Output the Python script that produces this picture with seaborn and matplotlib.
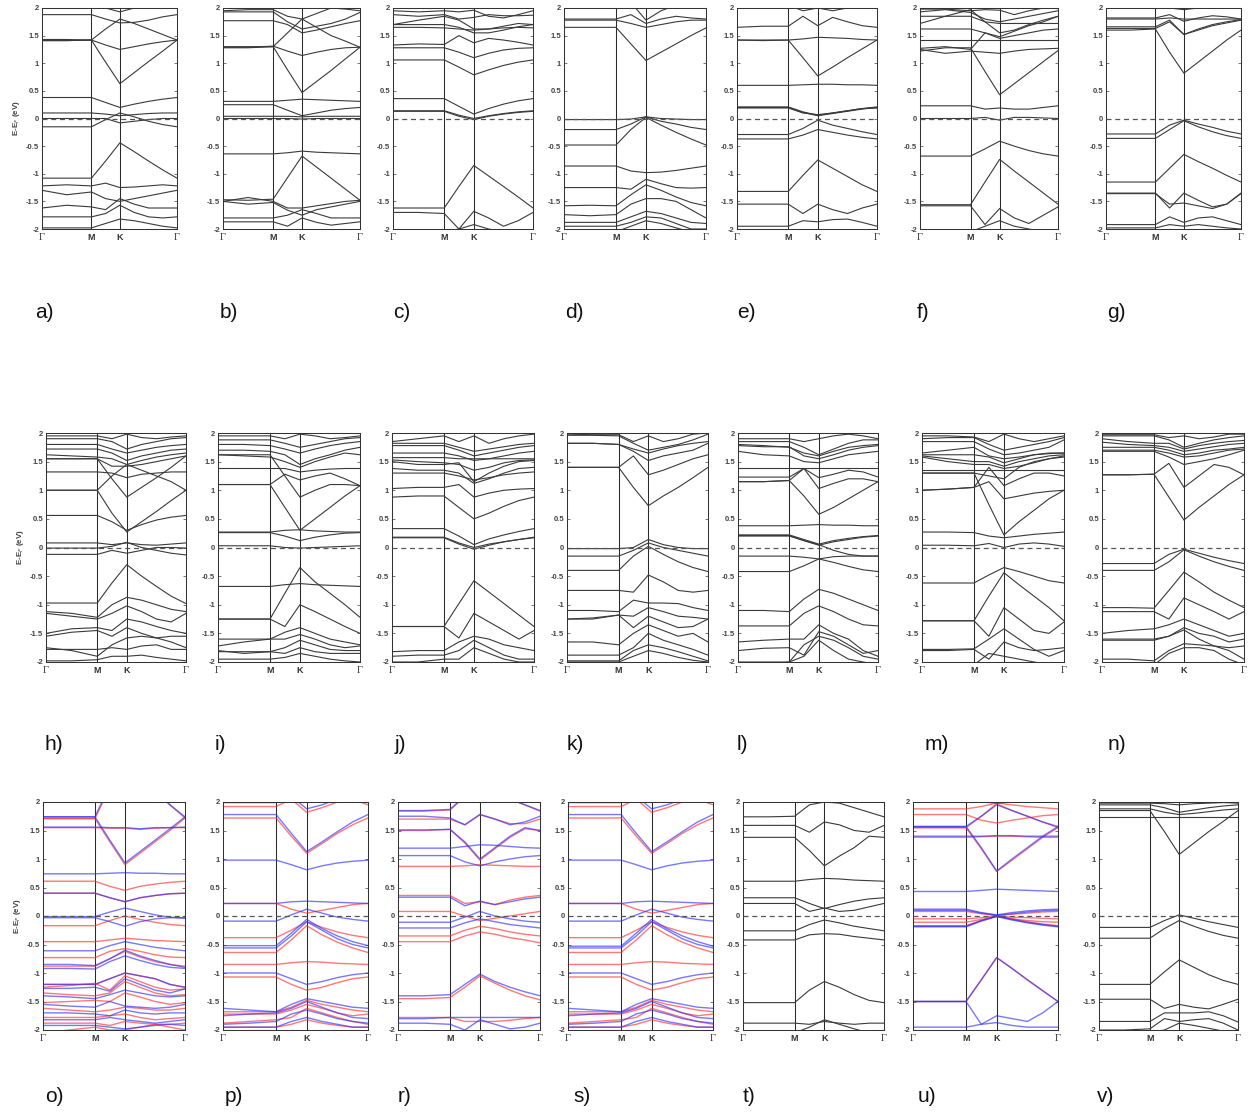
import numpy as np
import pandas as pd
import matplotlib
matplotlib.use("Agg")
import matplotlib.pyplot as plt
import seaborn as sns

# k-path sample positions: Γ, ΓM mid, M, MK mid, K, three points on KΓ, Γ
K_PATH = [0.0, 0.183, 0.366, 0.471, 0.577, 0.683, 0.789, 0.894, 1.0]
K_TICKS = [0.0, 0.366, 0.577, 1.0]
K_LABELS = ["Γ", "M", "K", "Γ"]
Y_TICKS = [2, 1.5, 1, 0.5, 0, -0.5, -1, -1.5, -2]

# ---------------- band energies (eV, relative to E_F) ----------------
BANDS_A = [
    [2.10, 2.10, 2.10, 2.00, 1.93, 2.00, 2.10, 2.10, 2.10],
    [1.88, 1.88, 1.88, 1.80, 1.73, 1.74, 1.78, 1.84, 1.88],
    [1.43, 1.43, 1.42, 1.62, 1.80, 1.72, 1.62, 1.52, 1.42],
    [1.41, 1.41, 1.42, 1.33, 1.25, 1.30, 1.35, 1.39, 1.42],
    [1.41, 1.41, 1.42, 1.02, 0.63, 0.83, 1.03, 1.22, 1.42],
    [0.38, 0.38, 0.38, 0.29, 0.20, 0.26, 0.31, 0.35, 0.38],
    [0.10, 0.10, 0.10, 0.08, 0.05, 0.07, 0.09, 0.10, 0.10],
    [0.00, 0.00, 0.00, 0.00, -0.08, -0.05, -0.02, 0.00, 0.00],
    [-0.15, -0.15, -0.15, -0.02, 0.10, 0.03, -0.05, -0.11, -0.15],
    [-1.08, -1.08, -1.08, -0.77, -0.44, -0.60, -0.77, -0.93, -1.08],
    [-1.22, -1.20, -1.22, -1.17, -1.25, -1.24, -1.22, -1.20, -1.22],
    [-1.30, -1.38, -1.33, -1.45, -1.50, -1.45, -1.40, -1.35, -1.30],
    [-1.62, -1.57, -1.60, -1.65, -1.45, -1.55, -1.62, -1.62, -1.62],
    [-1.78, -1.78, -1.78, -1.72, -1.57, -1.70, -1.78, -1.80, -1.78],
    [-1.98, -1.98, -1.98, -1.90, -1.82, -1.85, -1.90, -1.95, -1.98],
]
BANDS_B = [
    [1.95, 1.97, 1.97, 1.85, 1.80, 1.90, 2.00, 1.98, 1.95],
    [1.93, 1.93, 1.93, 1.75, 1.62, 1.67, 1.72, 1.80, 1.92],
    [1.77, 1.77, 1.77, 1.70, 1.55, 1.60, 1.66, 1.72, 1.77],
    [1.30, 1.30, 1.30, 1.55, 1.80, 1.65, 1.50, 1.40, 1.29],
    [1.29, 1.29, 1.31, 1.22, 1.14, 1.20, 1.25, 1.28, 1.29],
    [1.28, 1.28, 1.30, 0.88, 0.47, 0.67, 0.87, 1.08, 1.29],
    [0.31, 0.31, 0.31, 0.33, 0.35, 0.34, 0.33, 0.32, 0.31],
    [0.25, 0.25, 0.25, 0.15, 0.05, 0.10, 0.15, 0.18, 0.20],
    [0.04, 0.04, 0.04, 0.04, 0.03, 0.04, 0.04, 0.04, 0.04],
    [0.00, 0.00, 0.00, 0.00, -0.01, 0.00, 0.00, 0.00, 0.00],
    [-0.64, -0.64, -0.64, -0.62, -0.59, -0.61, -0.62, -0.63, -0.64],
    [-1.47, -1.48, -1.46, -1.07, -0.68, -0.88, -1.08, -1.28, -1.48],
    [-1.50, -1.43, -1.50, -1.62, -1.62, -1.58, -1.54, -1.50, -1.48],
    [-1.50, -1.55, -1.52, -1.66, -1.75, -1.65, -1.60, -1.55, -1.50],
    [-1.80, -1.80, -1.80, -1.75, -1.65, -1.72, -1.80, -1.80, -1.80],
    [-1.87, -1.87, -1.87, -1.95, -1.80, -1.88, -1.93, -1.90, -1.87],
]
BANDS_C = [
    [1.95, 1.93, 1.95, 1.93, 1.96, 1.85, 1.82, 1.88, 1.95],
    [1.88, 1.85, 1.88, 1.80, 1.83, 1.88, 1.86, 1.86, 1.87],
    [1.70, 1.78, 1.85, 1.78, 1.62, 1.62, 1.67, 1.72, 1.70],
    [1.70, 1.70, 1.70, 1.65, 1.55, 1.55, 1.60, 1.66, 1.70],
    [1.65, 1.65, 1.64, 1.62, 1.60, 1.62, 1.64, 1.65, 1.64],
    [1.33, 1.35, 1.34, 1.50, 1.37, 1.45, 1.42, 1.38, 1.33],
    [1.28, 1.28, 1.28, 1.20, 1.10, 1.18, 1.24, 1.27, 1.28],
    [1.06, 1.06, 1.06, 0.93, 0.79, 0.88, 0.96, 1.02, 1.06],
    [0.36, 0.36, 0.36, 0.22, 0.08, 0.18, 0.26, 0.32, 0.36],
    [0.14, 0.14, 0.14, 0.06, 0.00, 0.05, 0.09, 0.12, 0.14],
    [0.13, 0.13, 0.13, 0.04, -0.02, 0.04, 0.08, 0.11, 0.13],
    [-1.62, -1.62, -1.62, -1.23, -0.85, -1.04, -1.23, -1.42, -1.62],
    [-1.70, -1.70, -1.72, -2.00, -1.68, -1.80, -1.95, -1.85, -1.70],
    [-2.05, -2.05, -2.05, -2.00, -1.92, -2.00, -2.05, -2.05, -2.05],
]
BANDS_D = [
    [2.10, 2.10, 2.10, 2.10, 1.78, 1.95, 2.05, 2.10, 2.10],
    [1.80, 1.80, 1.80, 1.88, 1.72, 1.80, 1.85, 1.82, 1.80],
    [1.78, 1.78, 1.78, 1.72, 1.65, 1.70, 1.75, 1.78, 1.78],
    [1.65, 1.65, 1.65, 1.35, 1.05, 1.20, 1.35, 1.50, 1.64],
    [-0.02, -0.02, -0.02, -0.01, 0.03, 0.00, -0.01, -0.02, -0.02],
    [-0.20, -0.20, -0.20, -0.10, 0.03, -0.05, -0.10, -0.16, -0.20],
    [-0.48, -0.48, -0.48, -0.20, 0.02, -0.12, -0.25, -0.37, -0.48],
    [-0.86, -0.86, -0.86, -0.95, -0.98, -0.97, -0.94, -0.90, -0.86],
    [-1.25, -1.25, -1.25, -1.28, -1.10, -1.18, -1.25, -1.26, -1.25],
    [-1.58, -1.57, -1.58, -1.38, -1.20, -1.30, -1.42, -1.52, -1.58],
    [-1.74, -1.76, -1.74, -1.55, -1.45, -1.45, -1.50, -1.65, -1.80],
    [-1.88, -1.88, -1.88, -1.78, -1.68, -1.72, -1.80, -1.88, -1.90],
    [-1.95, -1.95, -1.95, -1.88, -1.78, -1.80, -1.90, -2.00, -2.00],
    [-2.05, -2.05, -2.05, -1.95, -1.85, -1.90, -1.98, -2.05, -2.05],
]
BANDS_E = [
    [2.05, 2.05, 2.05, 1.95, 2.00, 1.95, 2.00, 2.05, 2.05],
    [1.65, 1.67, 1.67, 1.85, 1.68, 1.83, 1.75, 1.68, 1.65],
    [1.42, 1.41, 1.42, 1.44, 1.47, 1.46, 1.45, 1.43, 1.42],
    [1.42, 1.42, 1.42, 1.10, 0.77, 0.93, 1.10, 1.26, 1.42],
    [0.60, 0.60, 0.60, 0.61, 0.62, 0.62, 0.61, 0.61, 0.60],
    [0.21, 0.21, 0.21, 0.12, 0.06, 0.10, 0.14, 0.18, 0.21],
    [0.20, 0.20, 0.20, 0.11, 0.05, 0.09, 0.13, 0.17, 0.20],
    [0.19, 0.19, 0.19, 0.10, 0.07, 0.10, 0.14, 0.18, 0.19],
    [-0.29, -0.29, -0.29, -0.18, -0.03, -0.12, -0.18, -0.24, -0.29],
    [-0.37, -0.37, -0.37, -0.30, -0.20, -0.25, -0.30, -0.34, -0.37],
    [-1.32, -1.32, -1.32, -1.03, -0.75, -0.90, -1.05, -1.20, -1.32],
    [-1.55, -1.55, -1.55, -1.72, -1.55, -1.65, -1.72, -1.62, -1.55],
    [-1.95, -1.95, -1.95, -1.85, -1.87, -1.83, -1.82, -1.88, -1.95],
]
BANDS_F = [
    [1.98, 1.98, 1.95, 1.97, 1.96, 1.88, 1.95, 2.00, 1.99],
    [1.93, 1.97, 1.92, 1.80, 1.75, 1.80, 1.85, 1.90, 1.95],
    [1.85, 1.85, 1.85, 1.75, 1.72, 1.72, 1.72, 1.72, 1.72],
    [1.72, 1.85, 1.97, 1.75, 1.55, 1.60, 1.70, 1.78, 1.85],
    [1.62, 1.62, 1.62, 1.55, 1.45, 1.50, 1.55, 1.60, 1.62],
    [1.42, 1.42, 1.42, 1.42, 1.42, 1.42, 1.42, 1.42, 1.42],
    [1.27, 1.30, 1.25, 1.55, 1.48, 1.58, 1.68, 1.75, 1.85],
    [1.25, 1.18, 1.22, 1.20, 1.18, 1.22, 1.25, 1.26, 1.27],
    [1.22, 1.28, 1.28, 0.85, 0.43, 0.63, 0.83, 1.03, 1.23],
    [0.23, 0.23, 0.23, 0.17, 0.19, 0.17, 0.17, 0.20, 0.23],
    [0.00, 0.00, 0.00, 0.02, -0.03, 0.02, 0.02, 0.01, 0.00],
    [-0.68, -0.68, -0.68, -0.55, -0.41, -0.50, -0.58, -0.64, -0.68],
    [-1.56, -1.56, -1.56, -1.15, -0.74, -0.95, -1.15, -1.35, -1.55],
    [-1.58, -1.58, -1.58, -1.92, -1.63, -1.80, -1.90, -1.75, -1.60],
    [-2.05, -2.05, -2.05, -1.95, -1.85, -1.95, -2.00, -2.05, -2.05],
]
BANDS_G = [
    [2.05, 2.05, 2.05, 2.00, 1.97, 2.00, 2.05, 2.05, 2.05],
    [1.82, 1.82, 1.82, 1.88, 1.76, 1.82, 1.86, 1.84, 1.80],
    [1.80, 1.80, 1.80, 1.82, 1.80, 1.80, 1.80, 1.80, 1.80],
    [1.66, 1.66, 1.66, 1.78, 1.52, 1.62, 1.70, 1.75, 1.79],
    [1.63, 1.63, 1.63, 1.75, 1.52, 1.60, 1.68, 1.73, 1.78],
    [1.60, 1.60, 1.62, 1.20, 0.82, 1.02, 1.22, 1.42, 1.60],
    [-0.28, -0.28, -0.28, -0.12, -0.03, -0.10, -0.16, -0.23, -0.28],
    [-0.36, -0.36, -0.36, -0.20, -0.04, -0.15, -0.24, -0.31, -0.36],
    [-1.15, -1.15, -1.15, -0.90, -0.65, -0.78, -0.90, -1.03, -1.15],
    [-1.35, -1.35, -1.35, -1.62, -1.35, -1.48, -1.60, -1.55, -1.35],
    [-1.36, -1.36, -1.36, -1.55, -1.53, -1.58, -1.63, -1.55, -1.36],
    [-1.92, -1.92, -1.92, -1.78, -1.88, -1.80, -1.78, -1.85, -1.92],
    [-1.98, -1.98, -1.98, -1.92, -1.95, -1.92, -1.95, -1.98, -2.00],
]
BANDS_H = [
    [1.95, 1.95, 1.95, 1.90, 1.98, 1.92, 1.90, 1.93, 1.95],
    [1.90, 1.90, 1.90, 1.85, 1.72, 1.80, 1.85, 1.90, 1.92],
    [1.80, 1.80, 1.80, 1.72, 1.65, 1.70, 1.75, 1.78, 1.80],
    [1.72, 1.72, 1.72, 1.65, 1.52, 1.60, 1.65, 1.70, 1.72],
    [1.62, 1.60, 1.58, 1.55, 1.45, 1.52, 1.58, 1.62, 1.65],
    [1.55, 1.55, 1.55, 1.42, 1.42, 1.45, 1.50, 1.55, 1.60],
    [1.32, 1.32, 1.32, 1.30, 1.22, 1.28, 1.30, 1.32, 1.32],
    [1.00, 1.00, 1.00, 1.25, 1.45, 1.35, 1.25, 1.15, 1.00],
    [1.55, 1.55, 1.55, 1.20, 0.88, 1.05, 1.22, 1.40, 1.60],
    [1.00, 1.00, 1.00, 0.60, 0.27, 0.45, 0.63, 0.82, 1.00],
    [0.56, 0.56, 0.56, 0.45, 0.30, 0.40, 0.48, 0.53, 0.56],
    [0.08, 0.08, 0.08, 0.05, 0.08, 0.05, 0.04, 0.06, 0.08],
    [-0.01, -0.01, -0.01, 0.02, 0.09, 0.00, -0.05, -0.10, -0.13],
    [-0.12, -0.12, -0.12, -0.05, -0.10, -0.05, 0.00, 0.00, -0.01],
    [-0.97, -0.97, -0.97, -0.62, -0.30, -0.50, -0.68, -0.85, -0.98],
    [-1.12, -1.15, -1.22, -1.00, -0.87, -0.92, -1.00, -1.08, -1.12],
    [-1.15, -1.20, -1.25, -1.15, -1.02, -1.12, -1.25, -1.30, -1.15],
    [-1.50, -1.42, -1.40, -1.45, -1.25, -1.30, -1.38, -1.45, -1.50],
    [-1.55, -1.48, -1.45, -1.55, -1.40, -1.50, -1.58, -1.55, -1.55],
    [-1.75, -1.80, -1.90, -1.70, -1.58, -1.55, -1.58, -1.65, -1.75],
    [-1.78, -1.78, -1.78, -1.75, -1.78, -1.72, -1.70, -1.78, -1.78],
    [-1.98, -1.98, -1.96, -1.90, -1.90, -1.88, -1.92, -1.95, -1.98],
]
BANDS_I = [
    [1.95, 1.95, 1.95, 1.90, 1.98, 1.95, 1.90, 1.92, 1.95],
    [1.88, 1.88, 1.88, 1.82, 1.75, 1.80, 1.85, 1.90, 1.92],
    [1.80, 1.80, 1.78, 1.72, 1.65, 1.72, 1.78, 1.82, 1.85],
    [1.70, 1.70, 1.68, 1.62, 1.45, 1.55, 1.62, 1.70, 1.75],
    [1.62, 1.60, 1.58, 1.50, 1.40, 1.50, 1.58, 1.65, 1.62],
    [1.38, 1.38, 1.38, 1.38, 1.32, 1.35, 1.37, 1.38, 1.38],
    [1.10, 1.10, 1.10, 1.28, 1.18, 1.25, 1.30, 1.20, 1.08],
    [1.62, 1.62, 1.62, 1.25, 0.88, 1.00, 1.10, 1.10, 1.08],
    [1.10, 1.10, 1.10, 0.70, 0.30, 0.50, 0.70, 0.90, 1.08],
    [0.27, 0.27, 0.27, 0.30, 0.31, 0.29, 0.28, 0.27, 0.27],
    [0.26, 0.26, 0.26, 0.20, 0.12, 0.18, 0.22, 0.25, 0.26],
    [0.03, 0.03, 0.03, 0.00, -0.01, 0.00, 0.01, 0.02, 0.03],
    [-0.68, -0.68, -0.68, -0.65, -0.63, -0.65, -0.66, -0.67, -0.68],
    [-1.25, -1.25, -1.25, -0.80, -0.35, -0.60, -0.80, -1.00, -1.22],
    [-1.25, -1.25, -1.25, -1.38, -1.00, -1.12, -1.25, -1.38, -1.50],
    [-1.60, -1.60, -1.60, -1.48, -1.40, -1.50, -1.60, -1.65, -1.70],
    [-1.72, -1.65, -1.60, -1.60, -1.52, -1.60, -1.70, -1.75, -1.72],
    [-1.80, -1.85, -1.82, -1.75, -1.62, -1.70, -1.78, -1.80, -1.80],
    [-1.82, -1.82, -1.82, -1.85, -1.75, -1.82, -1.85, -1.85, -1.85],
    [-1.95, -1.95, -1.95, -1.92, -1.85, -1.90, -1.95, -1.98, -2.00],
]
BANDS_J = [
    [1.85, 1.90, 1.95, 1.85, 1.95, 1.82, 1.90, 1.95, 1.98],
    [1.82, 1.82, 1.82, 1.75, 1.68, 1.72, 1.76, 1.80, 1.82],
    [1.78, 1.78, 1.78, 1.70, 1.60, 1.65, 1.70, 1.75, 1.78],
    [1.65, 1.65, 1.65, 1.60, 1.52, 1.55, 1.60, 1.65, 1.68],
    [1.57, 1.57, 1.57, 1.55, 1.55, 1.55, 1.55, 1.55, 1.55],
    [1.53, 1.50, 1.48, 1.45, 1.35, 1.40, 1.48, 1.52, 1.53],
    [1.50, 1.45, 1.45, 1.48, 1.15, 1.30, 1.42, 1.50, 1.52],
    [1.38, 1.35, 1.35, 1.30, 1.12, 1.20, 1.30, 1.38, 1.40],
    [1.30, 1.30, 1.30, 1.25, 1.18, 1.22, 1.27, 1.30, 1.32],
    [1.03, 1.05, 1.05, 1.10, 0.88, 0.95, 1.00, 1.02, 1.03],
    [0.88, 0.90, 0.90, 0.70, 0.50, 0.60, 0.72, 0.82, 0.88],
    [0.33, 0.33, 0.33, 0.20, 0.05, 0.15, 0.22, 0.28, 0.33],
    [0.18, 0.18, 0.18, 0.08, 0.00, 0.06, 0.10, 0.14, 0.18],
    [0.17, 0.17, 0.17, 0.06, -0.03, 0.04, 0.10, 0.14, 0.17],
    [-1.38, -1.38, -1.38, -0.98, -0.58, -0.78, -0.98, -1.18, -1.38],
    [-1.38, -1.38, -1.38, -1.58, -1.15, -1.30, -1.45, -1.60, -1.45],
    [-1.82, -1.80, -1.80, -1.65, -1.55, -1.60, -1.70, -1.75, -1.80],
    [-1.90, -1.88, -1.88, -1.80, -1.62, -1.75, -1.88, -1.95, -1.95],
    [-2.00, -2.00, -1.95, -1.95, -1.75, -1.85, -1.95, -2.00, -2.00],
]
BANDS_K = [
    [1.98, 1.97, 1.97, 1.85, 1.95, 1.85, 1.90, 1.98, 2.00],
    [1.96, 1.96, 1.95, 1.82, 1.70, 1.75, 1.80, 1.88, 1.98],
    [1.82, 1.82, 1.80, 1.72, 1.65, 1.72, 1.78, 1.82, 1.85],
    [1.82, 1.82, 1.80, 1.68, 1.52, 1.60, 1.65, 1.70, 1.82],
    [1.40, 1.40, 1.40, 1.60, 1.27, 1.35, 1.45, 1.55, 1.62],
    [1.40, 1.40, 1.40, 1.05, 0.73, 0.90, 1.05, 1.22, 1.40],
    [-0.02, -0.02, -0.02, 0.00, 0.14, 0.05, 0.00, -0.02, -0.02],
    [-0.15, -0.15, -0.15, -0.05, 0.08, 0.00, -0.05, -0.10, -0.15],
    [-0.40, -0.40, -0.40, -0.15, 0.02, -0.12, -0.25, -0.35, -0.42],
    [-0.75, -0.75, -0.75, -0.78, -0.48, -0.60, -0.75, -0.78, -0.75],
    [-1.10, -1.10, -1.12, -0.92, -0.97, -0.97, -0.98, -1.05, -1.10],
    [-1.25, -1.23, -1.18, -1.20, -1.05, -1.12, -1.20, -1.22, -1.25],
    [-1.25, -1.25, -1.18, -1.40, -1.20, -1.30, -1.40, -1.38, -1.25],
    [-1.65, -1.65, -1.70, -1.50, -1.35, -1.45, -1.55, -1.50, -1.65],
    [-1.88, -1.88, -1.88, -1.75, -1.50, -1.62, -1.70, -1.78, -1.88],
    [-1.98, -1.98, -1.98, -1.80, -1.70, -1.75, -1.82, -1.90, -1.98],
    [-2.00, -2.00, -2.00, -1.90, -1.80, -1.85, -1.92, -1.97, -2.00],
]
BANDS_L = [
    [1.90, 1.90, 1.90, 1.85, 1.90, 1.95, 1.98, 1.95, 1.90],
    [1.85, 1.85, 1.85, 1.75, 1.62, 1.72, 1.82, 1.88, 1.88],
    [1.80, 1.78, 1.75, 1.65, 1.60, 1.68, 1.75, 1.78, 1.80],
    [1.78, 1.76, 1.76, 1.60, 1.55, 1.62, 1.70, 1.75, 1.78],
    [1.68, 1.62, 1.60, 1.50, 1.48, 1.55, 1.62, 1.65, 1.68],
    [1.38, 1.38, 1.38, 1.38, 1.38, 1.38, 1.38, 1.38, 1.38],
    [1.23, 1.23, 1.23, 1.38, 1.22, 1.28, 1.35, 1.32, 1.23],
    [1.15, 1.15, 1.17, 1.38, 1.03, 1.12, 1.20, 1.20, 1.15],
    [1.15, 1.15, 1.17, 0.90, 0.58, 0.70, 0.85, 1.00, 1.15],
    [0.38, 0.38, 0.38, 0.39, 0.40, 0.39, 0.39, 0.38, 0.38],
    [0.22, 0.22, 0.22, 0.14, 0.06, 0.12, 0.16, 0.19, 0.21],
    [0.21, 0.21, 0.21, 0.12, 0.04, 0.10, 0.14, 0.18, 0.20],
    [0.20, 0.20, 0.20, 0.12, 0.05, -0.05, -0.12, -0.15, -0.15],
    [-0.15, -0.15, -0.15, -0.17, -0.20, -0.16, -0.15, -0.15, -0.15],
    [-0.42, -0.42, -0.42, -0.32, -0.20, -0.26, -0.33, -0.39, -0.42],
    [-1.10, -1.10, -1.12, -0.90, -0.73, -0.80, -0.90, -1.00, -1.10],
    [-1.37, -1.37, -1.37, -1.15, -1.02, -1.12, -1.25, -1.35, -1.37],
    [-1.65, -1.62, -1.60, -1.60, -1.35, -1.50, -1.60, -1.80, -1.90],
    [-1.80, -1.76, -1.75, -1.88, -1.47, -1.55, -1.70, -1.85, -1.80],
    [-2.00, -2.00, -2.00, -1.70, -1.55, -1.62, -1.75, -1.90, -1.95],
    [-2.05, -2.05, -2.00, -1.90, -1.62, -1.80, -1.95, -2.00, -2.05],
]
BANDS_M = [
    [1.95, 1.95, 1.93, 1.85, 1.98, 1.90, 1.85, 1.90, 1.95],
    [1.90, 1.92, 1.92, 1.80, 1.70, 1.75, 1.80, 1.85, 1.92],
    [1.85, 1.85, 1.85, 1.72, 1.62, 1.65, 1.70, 1.75, 1.88],
    [1.65, 1.70, 1.75, 1.60, 1.55, 1.58, 1.62, 1.65, 1.65],
    [1.62, 1.62, 1.62, 1.58, 1.48, 1.55, 1.62, 1.64, 1.65],
    [1.60, 1.55, 1.50, 1.50, 1.42, 1.50, 1.55, 1.60, 1.62],
    [1.58, 1.50, 1.45, 1.45, 1.38, 1.42, 1.48, 1.55, 1.58],
    [1.35, 1.35, 1.35, 1.35, 1.35, 1.35, 1.35, 1.35, 1.35],
    [1.30, 1.30, 1.30, 1.25, 1.20, 1.40, 1.50, 1.55, 1.60],
    [1.00, 1.02, 1.05, 1.40, 1.08, 1.20, 1.30, 1.30, 1.25],
    [1.00, 1.02, 1.05, 1.15, 0.85, 0.90, 0.95, 0.98, 1.00],
    [1.30, 1.30, 1.30, 0.75, 0.22, 0.45, 0.65, 0.85, 1.00],
    [0.27, 0.27, 0.26, 0.20, 0.17, 0.20, 0.23, 0.25, 0.27],
    [0.04, 0.04, 0.03, 0.07, 0.00, 0.06, 0.08, 0.06, 0.02],
    [-0.62, -0.62, -0.62, -0.48, -0.35, -0.42, -0.50, -0.58, -0.62],
    [-1.28, -1.28, -1.28, -0.85, -0.44, -0.65, -0.85, -1.05, -1.28],
    [-1.28, -1.28, -1.28, -1.55, -1.05, -1.25, -1.45, -1.50, -1.30],
    [-1.78, -1.78, -1.77, -1.60, -1.42, -1.60, -1.78, -1.90, -1.80],
    [-1.80, -1.80, -1.78, -1.95, -1.65, -1.75, -1.80, -1.78, -1.75],
    [-2.05, -2.05, -2.05, -1.85, -1.90, -1.95, -2.00, -2.05, -2.05],
]
BANDS_N = [
    [1.97, 1.97, 1.97, 1.92, 1.95, 1.90, 1.93, 1.98, 1.98],
    [1.95, 1.95, 1.95, 1.88, 1.75, 1.82, 1.88, 1.92, 1.95],
    [1.90, 1.85, 1.82, 1.82, 1.72, 1.78, 1.82, 1.85, 1.87],
    [1.84, 1.80, 1.78, 1.75, 1.68, 1.72, 1.76, 1.80, 1.82],
    [1.75, 1.75, 1.75, 1.70, 1.62, 1.65, 1.70, 1.72, 1.75],
    [1.70, 1.70, 1.70, 1.65, 1.58, 1.60, 1.65, 1.70, 1.72],
    [1.68, 1.68, 1.68, 1.58, 1.45, 1.50, 1.55, 1.62, 1.70],
    [1.27, 1.27, 1.28, 1.47, 1.05, 1.25, 1.45, 1.40, 1.27],
    [1.27, 1.27, 1.28, 0.88, 0.48, 0.70, 0.90, 1.10, 1.27],
    [-0.28, -0.28, -0.28, -0.12, -0.03, -0.10, -0.17, -0.23, -0.28],
    [-0.40, -0.40, -0.40, -0.25, -0.04, -0.15, -0.25, -0.33, -0.40],
    [-1.05, -1.05, -1.06, -0.75, -0.43, -0.60, -0.78, -0.92, -1.05],
    [-1.12, -1.12, -1.12, -1.25, -0.88, -1.00, -1.12, -1.25, -1.12],
    [-1.50, -1.45, -1.42, -1.35, -1.25, -1.35, -1.45, -1.55, -1.50],
    [-1.60, -1.60, -1.60, -1.55, -1.40, -1.50, -1.55, -1.65, -1.60],
    [-1.62, -1.62, -1.62, -1.55, -1.44, -1.60, -1.72, -1.75, -1.72],
    [-1.95, -1.95, -1.98, -1.80, -1.68, -1.70, -1.72, -1.80, -1.95],
    [-2.05, -2.05, -2.05, -1.85, -1.75, -1.75, -1.80, -1.95, -2.05],
]
# spin-polarised panels: majority (blue) and minority (red) channels
BANDS_O_UP = [
    [1.74, 1.74, 1.74, 2.30, 2.60, 2.40, 2.20, 1.95, 1.74],
    [1.74, 1.74, 1.74, 1.33, 0.93, 1.13, 1.33, 1.53, 1.74],
    [1.56, 1.56, 1.56, 1.55, 1.55, 1.53, 1.55, 1.55, 1.56],
    [0.74, 0.74, 0.74, 0.75, 0.76, 0.75, 0.75, 0.74, 0.74],
    [0.40, 0.40, 0.40, 0.32, 0.25, 0.32, 0.36, 0.39, 0.40],
    [-0.01, -0.01, -0.01, 0.07, 0.14, 0.08, 0.02, -0.02, -0.04],
    [-0.03, -0.03, -0.03, -0.10, -0.18, -0.10, -0.05, -0.03, -0.03],
    [-0.61, -0.61, -0.61, -0.52, -0.45, -0.50, -0.55, -0.58, -0.61],
    [-0.85, -0.85, -0.87, -0.75, -0.60, -0.70, -0.78, -0.85, -0.90],
    [-0.92, -0.92, -0.93, -0.80, -0.70, -0.78, -0.85, -0.90, -0.92],
    [-1.20, -1.20, -1.20, -1.10, -1.00, -1.05, -1.10, -1.20, -1.25],
    [-1.27, -1.27, -1.25, -1.32, -1.10, -1.20, -1.30, -1.35, -1.28],
    [-1.40, -1.42, -1.45, -1.38, -1.30, -1.35, -1.40, -1.42, -1.40],
    [-1.55, -1.58, -1.60, -1.50, -1.58, -1.60, -1.62, -1.60, -1.55],
    [-1.70, -1.70, -1.72, -1.75, -1.65, -1.70, -1.72, -1.70, -1.70],
    [-1.82, -1.82, -1.82, -1.78, -1.82, -1.85, -1.88, -1.85, -1.82],
    [-1.92, -1.92, -1.92, -1.95, -1.98, -1.95, -1.92, -1.90, -1.92],
]
BANDS_O_DN = [
    [1.71, 1.71, 1.71, 2.25, 2.60, 2.40, 2.20, 1.95, 1.72],
    [1.71, 1.71, 1.71, 1.30, 0.90, 1.10, 1.30, 1.50, 1.72],
    [1.55, 1.55, 1.55, 1.54, 1.54, 1.52, 1.54, 1.55, 1.55],
    [0.61, 0.61, 0.61, 0.52, 0.45, 0.52, 0.56, 0.59, 0.61],
    [0.40, 0.40, 0.40, 0.32, 0.25, 0.32, 0.36, 0.39, 0.40],
    [-0.17, -0.17, -0.17, -0.08, 0.00, -0.06, -0.11, -0.15, -0.17],
    [-0.45, -0.45, -0.45, -0.42, -0.39, -0.41, -0.43, -0.44, -0.45],
    [-0.73, -0.73, -0.73, -0.62, -0.57, -0.62, -0.68, -0.72, -0.73],
    [-0.88, -0.88, -0.88, -0.75, -0.62, -0.72, -0.80, -0.85, -0.88],
    [-1.20, -1.20, -1.20, -1.10, -1.00, -1.05, -1.10, -1.20, -1.25],
    [-1.25, -1.22, -1.18, -1.30, -1.05, -1.15, -1.25, -1.30, -1.28],
    [-1.35, -1.38, -1.40, -1.35, -1.15, -1.25, -1.35, -1.40, -1.38],
    [-1.52, -1.50, -1.48, -1.50, -1.35, -1.42, -1.50, -1.55, -1.52],
    [-1.62, -1.65, -1.68, -1.65, -1.60, -1.62, -1.65, -1.65, -1.62],
    [-1.78, -1.78, -1.78, -1.75, -1.72, -1.78, -1.82, -1.80, -1.78],
    [-1.88, -1.88, -1.88, -1.92, -1.85, -1.88, -1.90, -1.90, -1.88],
    [-2.05, -2.00, -1.95, -2.00, -2.00, -1.95, -1.90, -1.95, -2.00],
]
BANDS_P_UP = [
    [1.99, 1.99, 1.99, 2.10, 1.88, 1.95, 2.05, 2.10, 2.00],
    [1.78, 1.78, 1.78, 1.45, 1.13, 1.30, 1.48, 1.65, 1.78],
    [0.98, 0.98, 0.98, 0.90, 0.81, 0.88, 0.93, 0.96, 0.98],
    [0.22, 0.22, 0.22, 0.25, 0.26, 0.25, 0.24, 0.23, 0.22],
    [-0.09, -0.09, -0.09, 0.02, 0.12, 0.05, -0.02, -0.06, -0.09],
    [-0.52, -0.52, -0.52, -0.30, -0.06, -0.22, -0.35, -0.45, -0.52],
    [-0.56, -0.56, -0.56, -0.35, -0.10, -0.25, -0.40, -0.50, -0.56],
    [-1.00, -1.00, -1.00, -1.10, -1.20, -1.15, -1.08, -1.03, -1.00],
    [-1.62, -1.65, -1.68, -1.55, -1.45, -1.50, -1.55, -1.60, -1.62],
    [-1.75, -1.72, -1.70, -1.62, -1.50, -1.60, -1.70, -1.78, -1.80],
    [-1.90, -1.88, -1.85, -1.72, -1.65, -1.72, -1.80, -1.85, -1.88],
    [-1.95, -1.95, -1.95, -1.85, -1.78, -1.85, -1.90, -1.95, -1.95],
]
BANDS_P_DN = [
    [1.92, 1.92, 1.92, 2.05, 1.82, 1.90, 2.00, 2.05, 1.95],
    [1.72, 1.72, 1.72, 1.40, 1.10, 1.27, 1.45, 1.60, 1.72],
    [0.22, 0.22, 0.22, 0.12, 0.05, 0.10, 0.15, 0.20, 0.22],
    [-0.38, -0.38, -0.38, -0.25, -0.10, -0.20, -0.28, -0.34, -0.38],
    [-0.64, -0.64, -0.64, -0.42, -0.17, -0.33, -0.46, -0.56, -0.64],
    [-0.85, -0.85, -0.85, -0.82, -0.80, -0.81, -0.83, -0.84, -0.85],
    [-1.07, -1.07, -1.07, -1.20, -1.30, -1.25, -1.17, -1.10, -1.07],
    [-1.68, -1.68, -1.68, -1.60, -1.48, -1.55, -1.60, -1.65, -1.68],
    [-1.72, -1.72, -1.72, -1.65, -1.55, -1.62, -1.70, -1.75, -1.72],
    [-1.88, -1.85, -1.82, -1.78, -1.62, -1.70, -1.78, -1.85, -1.90],
    [-1.95, -1.95, -1.95, -1.90, -1.82, -1.88, -1.92, -1.95, -1.95],
]
BANDS_R_UP = [
    [1.85, 1.85, 1.87, 2.10, 2.30, 2.20, 2.05, 1.95, 1.85],
    [1.75, 1.75, 1.72, 1.60, 1.78, 1.70, 1.60, 1.65, 1.75],
    [1.51, 1.51, 1.52, 1.30, 1.00, 1.20, 1.40, 1.55, 1.50],
    [1.19, 1.19, 1.19, 1.22, 1.25, 1.24, 1.22, 1.20, 1.19],
    [1.06, 1.06, 1.06, 0.95, 0.88, 0.95, 1.00, 1.04, 1.06],
    [0.33, 0.33, 0.33, 0.18, 0.26, 0.20, 0.25, 0.30, 0.33],
    [-0.11, -0.11, -0.11, -0.02, 0.08, 0.00, -0.05, -0.09, -0.11],
    [-0.21, -0.21, -0.21, -0.12, -0.05, -0.10, -0.15, -0.18, -0.21],
    [-1.40, -1.40, -1.38, -1.20, -1.02, -1.15, -1.25, -1.33, -1.40],
    [-1.80, -1.80, -1.78, -1.78, -1.78, -1.78, -1.78, -1.78, -1.78],
    [-1.88, -1.88, -1.90, -2.00, -1.82, -1.90, -1.98, -1.95, -1.88],
]
BANDS_R_DN = [
    [1.84, 1.84, 1.86, 2.10, 2.30, 2.20, 2.05, 1.95, 1.84],
    [1.70, 1.70, 1.70, 1.60, 1.78, 1.70, 1.62, 1.62, 1.70],
    [1.50, 1.50, 1.52, 1.28, 0.98, 1.18, 1.38, 1.53, 1.50],
    [0.87, 0.87, 0.87, 0.88, 0.90, 0.89, 0.88, 0.87, 0.87],
    [0.36, 0.36, 0.36, 0.22, 0.25, 0.20, 0.28, 0.33, 0.36],
    [0.08, 0.08, 0.08, 0.00, -0.08, -0.04, 0.00, 0.04, 0.08],
    [-0.35, -0.35, -0.35, -0.25, -0.18, -0.22, -0.28, -0.32, -0.35],
    [-0.45, -0.45, -0.45, -0.35, -0.28, -0.32, -0.38, -0.42, -0.47],
    [-1.45, -1.45, -1.43, -1.25, -1.05, -1.18, -1.30, -1.40, -1.47],
    [-1.78, -1.78, -1.78, -1.85, -1.85, -1.85, -1.83, -1.80, -1.78],
]
BANDS_S_UP = [
    [1.99, 1.99, 1.99, 2.10, 1.88, 1.95, 2.05, 2.10, 2.00],
    [1.78, 1.78, 1.78, 1.45, 1.13, 1.30, 1.48, 1.65, 1.78],
    [0.98, 0.98, 0.98, 0.90, 0.81, 0.88, 0.93, 0.96, 0.98],
    [0.22, 0.22, 0.22, 0.25, 0.26, 0.25, 0.24, 0.23, 0.22],
    [-0.09, -0.09, -0.09, 0.02, 0.12, 0.05, -0.02, -0.06, -0.09],
    [-0.53, -0.53, -0.53, -0.30, -0.06, -0.22, -0.35, -0.45, -0.53],
    [-0.56, -0.56, -0.56, -0.35, -0.10, -0.25, -0.40, -0.50, -0.56],
    [-1.00, -1.00, -1.00, -1.10, -1.20, -1.15, -1.08, -1.03, -1.00],
    [-1.62, -1.65, -1.68, -1.55, -1.45, -1.50, -1.55, -1.60, -1.62],
    [-1.75, -1.72, -1.70, -1.62, -1.50, -1.60, -1.70, -1.78, -1.80],
    [-1.90, -1.88, -1.85, -1.72, -1.65, -1.72, -1.80, -1.85, -1.88],
    [-1.95, -1.95, -1.95, -1.85, -1.78, -1.85, -1.90, -1.95, -1.95],
]
BANDS_S_DN = [
    [1.92, 1.92, 1.92, 2.05, 1.82, 1.90, 2.00, 2.05, 1.95],
    [1.72, 1.72, 1.72, 1.40, 1.10, 1.27, 1.45, 1.60, 1.72],
    [0.22, 0.22, 0.22, 0.12, 0.05, 0.10, 0.15, 0.20, 0.22],
    [-0.38, -0.38, -0.38, -0.25, -0.10, -0.20, -0.28, -0.34, -0.38],
    [-0.64, -0.64, -0.64, -0.42, -0.17, -0.33, -0.46, -0.56, -0.64],
    [-0.85, -0.85, -0.85, -0.82, -0.80, -0.81, -0.83, -0.84, -0.85],
    [-1.07, -1.07, -1.07, -1.20, -1.30, -1.25, -1.17, -1.10, -1.07],
    [-1.68, -1.68, -1.68, -1.60, -1.48, -1.55, -1.60, -1.65, -1.68],
    [-1.72, -1.72, -1.72, -1.65, -1.55, -1.62, -1.70, -1.75, -1.72],
    [-1.88, -1.85, -1.82, -1.78, -1.62, -1.70, -1.78, -1.85, -1.90],
    [-1.95, -1.95, -1.95, -1.90, -1.82, -1.88, -1.92, -1.95, -1.95],
]
BANDS_T = [
    [1.74, 1.74, 1.75, 1.95, 2.00, 1.98, 1.90, 1.82, 1.74],
    [1.59, 1.59, 1.59, 1.47, 1.65, 1.60, 1.50, 1.47, 1.59],
    [1.38, 1.38, 1.38, 1.15, 0.88, 1.05, 1.20, 1.40, 1.38],
    [0.61, 0.61, 0.61, 0.64, 0.66, 0.65, 0.63, 0.62, 0.61],
    [0.32, 0.32, 0.32, 0.22, 0.13, 0.20, 0.26, 0.30, 0.32],
    [0.22, 0.22, 0.22, 0.08, 0.14, 0.08, 0.10, 0.16, 0.22],
    [-0.26, -0.26, -0.26, -0.15, -0.07, -0.12, -0.18, -0.22, -0.26],
    [-0.42, -0.42, -0.42, -0.33, -0.31, -0.32, -0.36, -0.39, -0.42],
    [-1.52, -1.52, -1.52, -1.30, -1.15, -1.25, -1.38, -1.48, -1.52],
    [-1.88, -1.88, -1.88, -1.90, -1.85, -1.88, -1.90, -1.88, -1.88],
    [-2.05, -2.05, -2.05, -1.95, -1.82, -1.90, -1.98, -2.05, -2.05],
]
BANDS_U_UP = [
    [2.10, 2.10, 2.10, 2.00, 1.98, 2.00, 2.05, 2.10, 2.10],
    [1.57, 1.57, 1.57, 1.75, 1.95, 1.85, 1.75, 1.65, 1.57],
    [1.57, 1.57, 1.57, 1.20, 0.79, 1.00, 1.20, 1.40, 1.57],
    [1.40, 1.40, 1.40, 1.40, 1.41, 1.41, 1.40, 1.40, 1.40],
    [0.43, 0.43, 0.43, 0.45, 0.47, 0.46, 0.45, 0.44, 0.43],
    [0.12, 0.12, 0.12, 0.06, 0.02, 0.06, 0.09, 0.11, 0.12],
    [0.10, 0.10, 0.10, 0.05, 0.01, 0.04, 0.07, 0.09, 0.10],
    [-0.18, -0.18, -0.18, -0.08, 0.00, -0.06, -0.11, -0.15, -0.18],
    [-0.19, -0.19, -0.19, -0.09, -0.01, -0.07, -0.12, -0.16, -0.19],
    [-1.50, -1.50, -1.50, -1.12, -0.73, -0.92, -1.12, -1.31, -1.50],
    [-1.50, -1.50, -1.50, -1.90, -1.75, -1.80, -1.85, -1.70, -1.50],
    [-1.95, -1.95, -1.95, -1.90, -1.87, -1.92, -1.95, -1.95, -1.95],
]
BANDS_U_DN = [
    [1.88, 1.88, 1.88, 1.92, 1.98, 1.95, 1.92, 1.90, 1.88],
    [1.78, 1.78, 1.78, 1.68, 1.63, 1.68, 1.72, 1.76, 1.78],
    [1.55, 1.55, 1.55, 1.75, 1.97, 1.85, 1.75, 1.65, 1.55],
    [1.55, 1.55, 1.55, 1.18, 0.78, 0.98, 1.18, 1.38, 1.55],
    [1.38, 1.38, 1.38, 1.39, 1.40, 1.40, 1.39, 1.38, 1.38],
    [0.08, 0.08, 0.08, 0.04, 0.01, 0.03, 0.05, 0.07, 0.08],
    [-0.05, -0.05, -0.05, -0.03, 0.00, -0.02, -0.03, -0.04, -0.05],
    [-0.11, -0.11, -0.11, -0.06, -0.01, -0.05, -0.08, -0.10, -0.11],
    [-0.17, -0.17, -0.17, -0.08, 0.00, -0.05, -0.10, -0.14, -0.17],
    [-1.50, -1.50, -1.50, -1.12, -0.73, -0.92, -1.12, -1.31, -1.50],
]
BANDS_V = [
    [1.98, 1.98, 1.98, 1.97, 1.95, 1.97, 1.98, 1.99, 1.98],
    [1.95, 1.95, 1.95, 1.90, 1.82, 1.86, 1.90, 1.93, 1.95],
    [1.88, 1.88, 1.88, 1.82, 1.78, 1.80, 1.83, 1.86, 1.88],
    [1.85, 1.85, 1.85, 1.48, 1.08, 1.28, 1.48, 1.66, 1.85],
    [1.74, 1.74, 1.74, 1.74, 1.74, 1.74, 1.74, 1.74, 1.74],
    [-0.20, -0.20, -0.20, -0.08, 0.02, -0.04, -0.10, -0.15, -0.20],
    [-0.39, -0.39, -0.39, -0.22, -0.08, -0.18, -0.27, -0.34, -0.39],
    [-1.20, -1.20, -1.20, -0.98, -0.77, -0.90, -1.03, -1.13, -1.20],
    [-1.46, -1.46, -1.46, -1.62, -1.55, -1.60, -1.63, -1.55, -1.46],
    [-1.85, -1.85, -1.85, -1.70, -1.70, -1.70, -1.68, -1.75, -1.86],
    [-2.00, -2.00, -1.98, -1.80, -1.85, -1.82, -1.80, -1.88, -2.00],
    [-2.05, -2.05, -2.05, -2.00, -1.88, -1.92, -1.97, -2.02, -2.05],
]

# panel letters
LETTERS = ["a", "b", "c", "d", "e", "f", "g",
           "h", "i", "j", "k", "l", "m", "n",
           "o", "p", "r", "s", "t", "u", "v"]

# ---------------- layout (pixels) ----------------
W, H = 1253, 1120
ROW_Y = [(8, 229), (433, 662), (802, 1030)]
COL_X = [
    [(42, 177), (223, 360), (393, 533), (564, 706), (737, 877), (920, 1058), (1106, 1241)],
    [(46, 186), (218, 360), (392, 534), (567, 708), (738, 878), (922, 1064), (1102, 1244)],
    [(43, 185), (223, 368), (398, 540), (568, 713), (743, 884), (913, 1058), (1099, 1238)],
]
LABEL_POS = [
    [(35, 312), (220, 312), (393, 312), (565, 312), (737, 312), (917, 312), (1107, 312)],
    [(45, 745), (215, 745), (395, 745), (567, 745), (737, 745), (925, 745), (1108, 745)],
    [(45, 1097), (225, 1097), (398, 1097), (573, 1097), (743, 1097), (918, 1097), (1097, 1097)],
]

LINE = "#3a3a3a"
RED = "#ff3030"
BLUE = "#3030ff"


def band_frame(bands, spin="none"):
    rows = []
    for i, band in enumerate(bands):
        for k, e in zip(K_PATH, band):
            rows.append((f"{spin}{i}", k, e, spin))
    return pd.DataFrame(rows, columns=["band", "k", "E", "spin"])


PANELS = {
    "a": [(BANDS_A, LINE)], "b": [(BANDS_B, LINE)], "c": [(BANDS_C, LINE)],
    "d": [(BANDS_D, LINE)], "e": [(BANDS_E, LINE)], "f": [(BANDS_F, LINE)],
    "g": [(BANDS_G, LINE)], "h": [(BANDS_H, LINE)], "i": [(BANDS_I, LINE)],
    "j": [(BANDS_J, LINE)], "k": [(BANDS_K, LINE)], "l": [(BANDS_L, LINE)],
    "m": [(BANDS_M, LINE)], "n": [(BANDS_N, LINE)],
    "o": [(BANDS_O_DN, RED), (BANDS_O_UP, BLUE)],
    "p": [(BANDS_P_DN, RED), (BANDS_P_UP, BLUE)],
    "r": [(BANDS_R_DN, RED), (BANDS_R_UP, BLUE)],
    "s": [(BANDS_S_DN, RED), (BANDS_S_UP, BLUE)],
    "t": [(BANDS_T, LINE)],
    "u": [(BANDS_U_DN, RED), (BANDS_U_UP, BLUE)],
    "v": [(BANDS_V, LINE)],
}

sns.set_theme(style="white")
plt.rcParams["font.family"] = ["Liberation Sans", "DejaVu Sans"]

fig = plt.figure(figsize=(W / 100, H / 100), dpi=100)
fig.patch.set_facecolor("white")

for idx, letter in enumerate(LETTERS):
    r, c = divmod(idx, 7)
    x0, x1 = COL_X[r][c]
    y0, y1 = ROW_Y[r]
    ax = fig.add_axes([x0 / W, 1 - y1 / H, (x1 - x0) / W, (y1 - y0) / H])

    for bands, color in PANELS[letter]:
        df = band_frame(bands, spin=color)
        spin_panel = color != LINE
        sns.lineplot(data=df, x="k", y="E", units="band", estimator=None,
                     sort=False, color=color, lw=1.0 if spin_panel else 0.8,
                     alpha=0.65 if spin_panel else 1.0, legend=False, ax=ax)

    for kx in K_TICKS[1:3]:
        ax.axvline(kx, color="#2a2a2a", lw=0.75, zorder=1)
    ax.axhline(0, color="#555555", lw=0.9, ls=(0, (4, 3)), zorder=3)

    ax.set_xlim(0, 1)
    ax.set_ylim(-2, 2)
    ax.set_xlabel("")
    ax.set_ylabel("")
    ax.set_yticks(Y_TICKS)
    ax.set_yticklabels([f"{v:g}" for v in Y_TICKS], fontsize=5.5,
                       fontweight="bold", color="#444444")
    ax.set_xticks(K_TICKS)
    ax.set_xticklabels(K_LABELS, fontsize=6.5, fontweight="bold", color="#333333")
    for lab in ax.get_xticklabels():
        if lab.get_text() == "Γ":
            lab.set_fontfamily("Liberation Serif")
            lab.set_fontweight("normal")
            lab.set_fontsize(7.5)
    ax.tick_params(axis="y", direction="in", length=2, width=0.5, pad=2,
                   left=True, right=True, colors="#444444")
    ax.tick_params(axis="x", length=0, pad=3)
    for sp in ax.spines.values():
        sp.set_color("#333333")
        sp.set_linewidth(0.75)

    if c == 0:
        ax.set_ylabel("E-E$_F$ (eV)", fontsize=5.8, fontweight="bold",
                      color="#444444", labelpad=3)

    lx, ly = LABEL_POS[r][c]
    fig.text(lx / W, 1 - ly / H, f"{letter})", fontsize=15, ha="left",
             va="center", color="#111111")

fig.savefig("out.png", dpi=100, facecolor="white")
